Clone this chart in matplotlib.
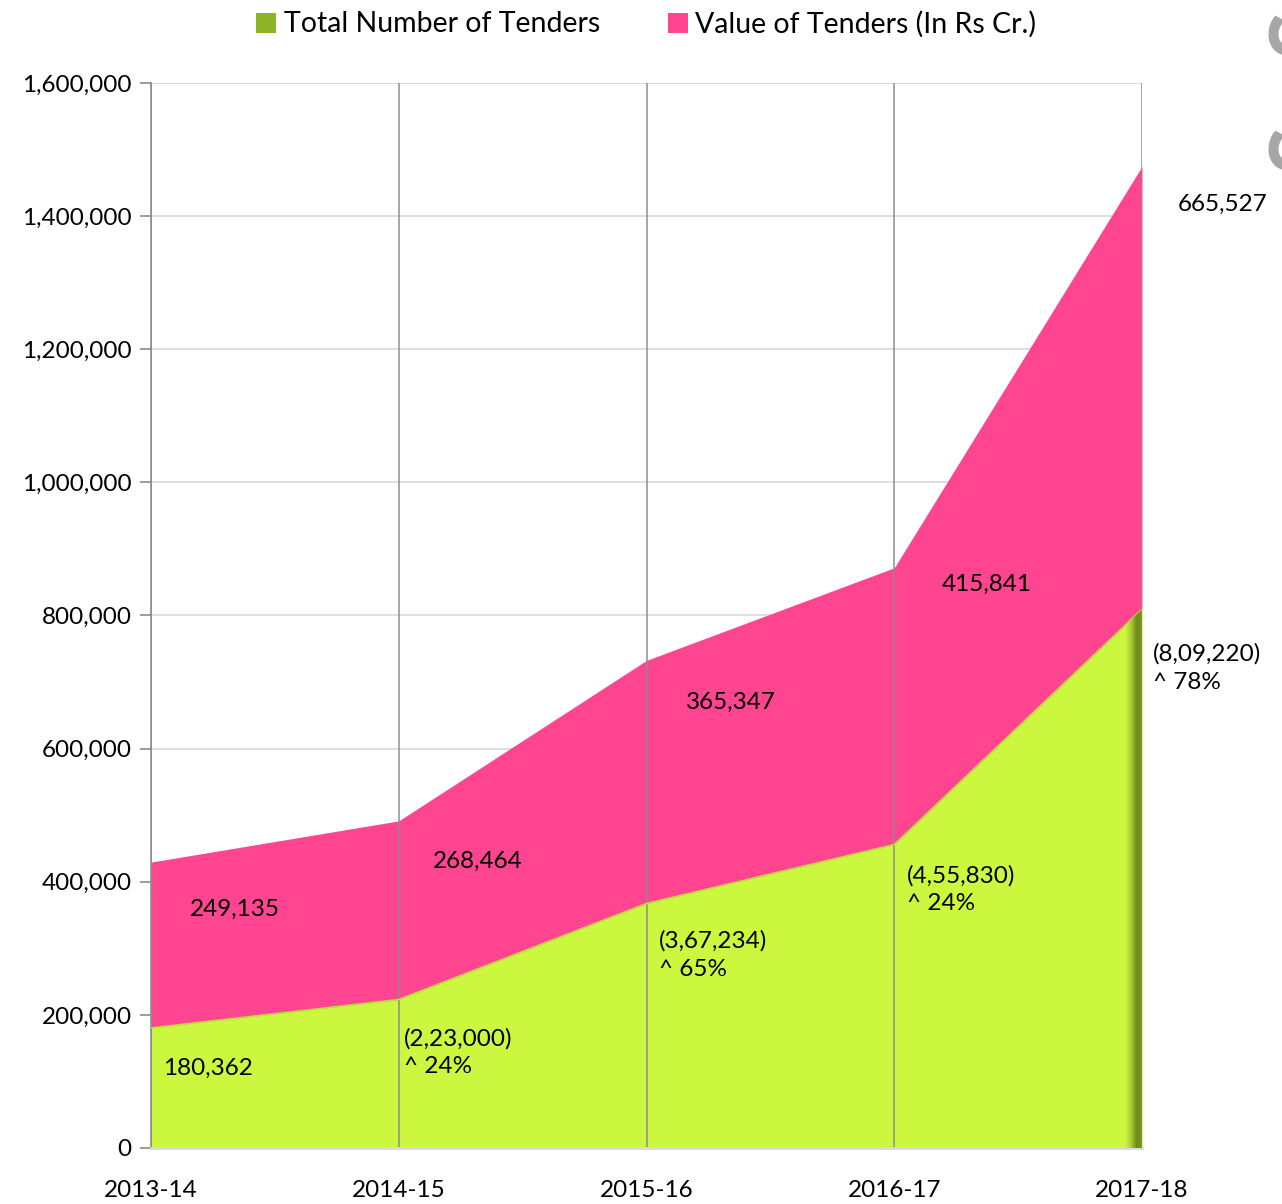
import matplotlib
matplotlib.use("Agg")
import matplotlib.pyplot as plt
import numpy as np
from matplotlib.patches import Rectangle
from matplotlib.ticker import FuncFormatter
from matplotlib.colors import LinearSegmentedColormap

years = ["2013-14", "2014-15", "2015-16", "2016-17", "2017-18"]
num_tenders = [180362, 223000, 367234, 455830, 809220]
value_tenders = [249135, 268464, 365347, 415841, 665527]
num_labels = ["180,362", "(2,23,000)\n^ 24%", "(3,67,234)\n^ 65%", "(4,55,830)\n^ 24%", "(8,09,220)\n^ 78%"]
val_labels = ["249,135", "268,464", "365,347", "415,841", "665,527"]
legend_labels = ["Total Number of Tenders", "Value of Tenders (In Rs Cr.)"]

GREEN = "#CCF73F"
DARKGREEN = "#6E8A1E"
PINK = "#FF4590"
FONT = ["Lato", "DejaVu Sans"]

plt.rcParams["font.family"] = FONT

fig = plt.figure(figsize=(12.82, 12.04), dpi=100)
ax = fig.add_axes([151/1282, 1 - 1148/1204, (1142-151)/1282, (1148-83)/1204])

x = np.arange(len(years))
g = np.array(num_tenders)
p = np.array(value_tenders)

green_poly = ax.fill_between(x, 0, g, color=GREEN, lw=0, zorder=2)
ax.fill_between(x, g, g + p, color=PINK, lw=0, zorder=2)
ax.plot(x, g, color="#B8E03A", lw=1.2, zorder=3)

# dark shadow on right edge of green area (clipped to green area)
grad = np.linspace(0, 1, 60).reshape(1, -1)
cmap = LinearSegmentedColormap.from_list("sh", [GREEN, "#A9CC35", DARKGREEN, "#7F9A2A"])
im = ax.imshow(grad, cmap=cmap, extent=[x[-1] - 0.07, x[-1], 0, g[-1]], aspect="auto", zorder=3)
im.set_clip_path(green_poly.get_paths()[0], transform=ax.transData)

ax.set_xlim(0, 4)
ax.set_ylim(0, 1600000)
ax.set_yticks(np.arange(0, 1600001, 200000))
ax.yaxis.set_major_formatter(FuncFormatter(lambda v, _: f"{int(v):,}"))
ax.set_xticks(x)
ax.set_xticklabels(years)

ax.grid(axis="y", color="#D9D9D9", lw=1.2, zorder=0)
for xi in x:
    ax.axvline(xi, color="#8C8C8C", lw=1.2, zorder=2.5, alpha=0.9)

for s in ["top", "right"]:
    ax.spines[s].set_visible(False)
ax.spines["left"].set_color("#8C8C8C")
ax.spines["left"].set_linewidth(1.2)
ax.spines["bottom"].set_color("#D9D9D9")
ax.spines["bottom"].set_linewidth(2)
ax.tick_params(axis="y", length=8, width=1.2, color="#8C8C8C", labelsize=17.5, pad=6)
ax.tick_params(axis="x", length=0, labelsize=17.5, pad=23)
ax.set_axisbelow(True)

# labels
num_pos = [(0.048, 120000), (1.021, 143000), (2.05, 290000), (3.05, 388000), (4.044, 721000)]
val_pos = [(0.157, 359000), (1.138, 431000), (2.159, 669000), (3.193, 847000), (4.145, 1417000)]
for (xx, yy), t in zip(num_pos, num_labels):
    ax.text(xx, yy, t, fontsize=17.5, ha="left", va="center", linespacing=1.4, zorder=5, clip_on=False)
for (xx, yy), t in zip(val_pos, val_labels):
    ax.text(xx, yy, t, fontsize=17.5, ha="left", va="center", zorder=5, clip_on=False)

# legend
fig.patches.append(Rectangle((256/1282, 1 - 33/1204), 20/1282, 20/1204, transform=fig.transFigure,
                             facecolor="#8DB52A", edgecolor="none"))
fig.text(284/1282, 1 - 24/1204, legend_labels[0], fontsize=20.5, va="center", ha="left")
fig.patches.append(Rectangle((668/1282, 1 - 33/1204), 20/1282, 20/1204, transform=fig.transFigure,
                             facecolor=PINK, edgecolor="none"))
fig.text(695/1282, 1 - 24/1204, legend_labels[1], fontsize=20.5, va="center", ha="left")

# cut-off watermark at right edge
fig.text(1266/1282, 1 - 90/1204, "Sa.S", fontsize=64, fontweight="bold", color="#A6A6A6",
         rotation=90, ha="left", va="center")

fig.savefig("out.png", dpi=100)
